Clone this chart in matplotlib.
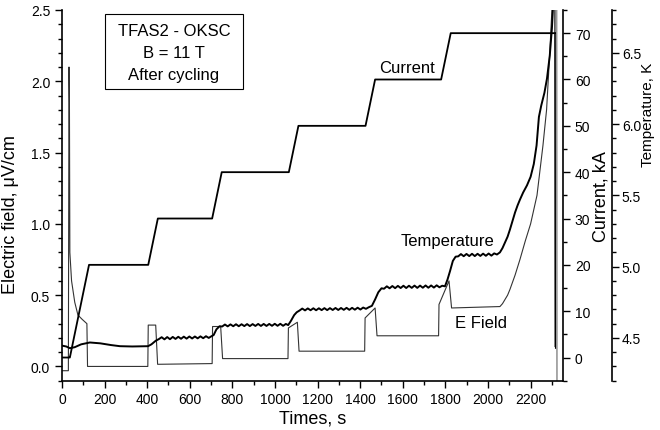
import matplotlib.pyplot as plt
from matplotlib.patches import Rectangle
from matplotlib.ticker import MultipleLocator

plt.rcParams['font.family'] = ['Liberation Sans', 'DejaVu Sans']

# =========================
# DATA
# =========================
# current, kA
cur_t = [0, 35, 37, 127, 405, 450, 705, 750, 1065, 1110, 1425, 1470,
         1780, 1825, 2315, 2317]
cur_ka = [0, 0, 0, 20, 20, 30, 30, 40, 40, 50, 50, 60, 60, 70, 70, 2]

# electric field, uV/cm
ef_t = [0, 30, 33, 35, 37, 45, 60, 75, 95, 117, 120, 403, 405, 440, 449,
        705, 707, 745, 754, 1061, 1063, 1105, 1113, 1421, 1423, 1470, 1479,
        1768, 1770, 1817, 1829, 2056, 2068, 2080, 2092, 2103, 2115, 2127,
        2150, 2175, 2200, 2230, 2258, 2275, 2290, 2300, 2310, 2322, 2324]
ef_uv = [-0.03, -0.03, 2.1, 1.85, 0.8, 0.6, 0.45, 0.36, 0.33, 0.30, 0.0,
         0.0, 0.29, 0.29, 0.015, 0.02, 0.28, 0.28, 0.055, 0.055, 0.27, 0.31,
         0.107, 0.107, 0.34, 0.41, 0.215, 0.215, 0.435, 0.60, 0.41, 0.42,
         0.44, 0.47, 0.50, 0.54, 0.59, 0.64, 0.75, 0.88, 1.0, 1.2, 1.55,
         1.8, 2.2, 2.5, 2.7, 2.7, -0.5]

# temperature, K
temp_t = [0, 20, 37, 60, 90, 131, 180, 230, 272, 330, 404, 420, 440,
          455, 468, 481, 494, 507, 520, 533, 546, 559, 572, 585, 598, 611,
          624, 637, 650, 663, 676, 689, 702, 712, 725, 740,
          752, 765, 778, 791, 804, 817, 830, 843, 856, 869, 882, 895, 908,
          921, 934, 947, 960, 973, 986, 999, 1012, 1025, 1038, 1051, 1062,
          1075, 1090, 1102,
          1115, 1128, 1141, 1154, 1167, 1180, 1193, 1206, 1219, 1232, 1245,
          1258, 1271, 1284, 1297, 1310, 1323, 1336, 1349, 1362, 1375, 1388,
          1401, 1414, 1427, 1440, 1455, 1470, 1485, 1500,
          1512, 1525, 1538, 1551, 1564, 1577, 1590, 1603, 1616, 1629, 1642,
          1655, 1668, 1681, 1694, 1707, 1720, 1733, 1746, 1759, 1772, 1785,
          1798, 1810, 1822, 1835, 1848,
          1860, 1873, 1886, 1899, 1912, 1925, 1938, 1951, 1964, 1977, 1990,
          2003, 2016, 2029, 2042, 2056, 2068, 2080, 2092, 2103, 2115, 2127,
          2139, 2150, 2165, 2183, 2200, 2215, 2228, 2239, 2250, 2265, 2277,
          2290, 2300, 2308, 2314, 2315]
temp_k = [4.446, 4.440, 4.428, 4.435, 4.455, 4.468, 4.462, 4.450, 4.442,
          4.440, 4.442, 4.455, 4.480,
          4.492, 4.505, 4.490, 4.506, 4.491, 4.507, 4.493, 4.508, 4.494,
          4.509, 4.495, 4.510, 4.496, 4.510, 4.497, 4.511, 4.498, 4.512,
          4.500, 4.512, 4.520, 4.560, 4.582,
          4.580, 4.594, 4.581, 4.595, 4.582, 4.596, 4.582, 4.596, 4.583,
          4.597, 4.583, 4.597, 4.584, 4.598, 4.584, 4.598, 4.584, 4.598,
          4.585, 4.599, 4.585, 4.599, 4.585, 4.598, 4.590,
          4.620, 4.660, 4.680,
          4.692, 4.706, 4.693, 4.707, 4.694, 4.708, 4.694, 4.708, 4.695,
          4.709, 4.695, 4.709, 4.696, 4.710, 4.696, 4.710, 4.697, 4.711,
          4.697, 4.711, 4.698, 4.712, 4.699, 4.713, 4.704, 4.715, 4.725,
          4.770, 4.820, 4.848,
          4.845, 4.862, 4.848, 4.864, 4.849, 4.865, 4.850, 4.866, 4.850,
          4.866, 4.851, 4.867, 4.851, 4.867, 4.852, 4.868, 4.852, 4.868,
          4.853, 4.869, 4.855, 4.866, 4.862, 4.910, 4.970, 5.040, 5.070,
          5.072, 5.088, 5.073, 5.089, 5.074, 5.090, 5.074, 5.090, 5.075,
          5.091, 5.076, 5.092, 5.077, 5.093, 5.085, 5.100, 5.130, 5.170,
          5.210, 5.260, 5.320, 5.380, 5.430, 5.470, 5.520, 5.570, 5.630,
          5.720, 5.850, 6.050, 6.130, 6.220, 6.320, 6.480, 6.670, 6.900,
          6.900, 4.440]

info_lines = ["TFAS2 - OKSC", "B = 11 T", "After cycling"]

# =========================
# FIGURE
# =========================
fig = plt.figure(figsize=(6.6, 4.31), dpi=100)
ax = fig.add_axes([0.0939, 0.1144, 0.7591, 0.8601])
ax_i = ax.twinx()
ax_t = ax.twinx()

# field: thin trace, final dump drawn light grey
ax.plot(ef_t[:-1], ef_uv[:-1], color='#333333', lw=0.8)
ax.plot(ef_t[-2:], ef_uv[-2:], color='#999999', lw=1.2)
# current: plateaus thick, dump thin
ax_i.plot(cur_t[:-1], cur_ka[:-1], color='black', lw=1.3)
ax_i.plot(cur_t[-2:], cur_ka[-2:], color='black', lw=0.8)
# temperature: thick, final drop thin
ax_t.plot(temp_t[:-2], temp_k[:-2], color='black', lw=1.4)
ax_t.plot(temp_t[-3:], temp_k[-3:], color='black', lw=0.8)

ax.set_xlim(0, 2352)
ax.set_ylim(-0.1, 2.5)
ax_i.set_ylim(-5, 75)
ax_t.set_ylim(4.2, 6.8)

ax.xaxis.set_major_locator(MultipleLocator(200))
ax.xaxis.set_minor_locator(MultipleLocator(100))
ax.yaxis.set_major_locator(MultipleLocator(0.5))
ax.yaxis.set_minor_locator(MultipleLocator(0.1))
ax_i.yaxis.set_major_locator(MultipleLocator(10))
ax_i.yaxis.set_minor_locator(MultipleLocator(5))
ax_t.yaxis.set_major_locator(MultipleLocator(0.5))
ax_t.yaxis.set_minor_locator(MultipleLocator(0.1))

ax.yaxis.set_major_formatter(plt.FormatStrFormatter('%.1f'))
ax_t.yaxis.set_major_formatter(plt.FormatStrFormatter('%.1f'))

for a in (ax, ax_i, ax_t):
    for s in a.spines.values():
        s.set_visible(False)
    a.tick_params(which='major', length=5, width=1, labelsize=10, direction='out')
    a.tick_params(which='minor', length=3, width=1, direction='out')
ax_t.tick_params(which='major', pad=2)

ax.spines['left'].set_visible(True)
ax.spines['bottom'].set_visible(True)
ax_i.spines['right'].set_visible(True)
ax_t.spines['right'].set_visible(True)
ax_t.spines['right'].set_position(('axes', 1.098))
for a, side in ((ax, 'left'), (ax, 'bottom'), (ax_i, 'right'), (ax_t, 'right')):
    a.spines[side].set_linewidth(1.2)

ax.set_xlabel("Times, s", fontsize=13, labelpad=2)
ax.set_ylabel("Electric field, \u03bcV/cm", fontsize=13)
ax.yaxis.set_label_coords(-0.085, 0.45)
ax_i.set_ylabel("Current, kA", fontsize=13)
ax_i.yaxis.set_label_coords(1.058, 0.5)
ax_t.set_ylabel("Temperature, K", fontsize=11)
ax_t.yaxis.set_label_coords(1.156, 0.72)

# curve annotations
ax.text(1620, 2.10, "Current", fontsize=12, ha='center', va='center')
ax.text(1812, 0.88, "Temperature", fontsize=12, ha='center', va='center')
ax.text(1967, 0.31, "E Field", fontsize=12, ha='center', va='center')

# info box
ax.add_patch(Rectangle((0.0858, 0.787), 0.275, 0.202, transform=ax.transAxes,
                       fill=False, edgecolor='black', lw=0.8))
for k, line in enumerate(info_lines):
    ax.text(0.2234, 0.944 - k * 0.0585, line, transform=ax.transAxes,
            fontsize=12, ha='center', va='center')

fig.savefig("out.png", dpi=100)
